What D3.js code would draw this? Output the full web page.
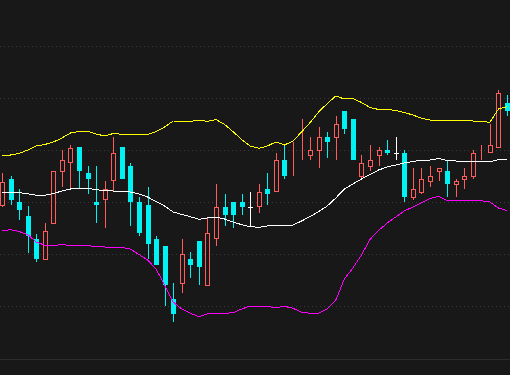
<!DOCTYPE html>
<html>
<head>
<meta charset="utf-8">
<script src="https://cdn.jsdelivr.net/npm/d3@7/dist/d3.min.js"></script>
<style>
  html, body { margin: 0; padding: 0; background: #181818; }
  svg { display: block; }
</style>
</head>
<body>
<svg id="draw-here"></svg>
<script>
// candle prices, left to right
var open = [19.40, 22.10, 19.77, 18.37, 16.07, 14.03, 17.60, 22.83, 23.67, 25.30, 22.70, 19.80, 19.97, 21.87, 25.30, 23.40, 19.80, 19.50, 16.10, 15.40,
            10.10, 11.63, 14.10, 15.90, 11.43, 16.07, 19.30, 19.80, 19.80, 19.27, 19.27, 21.13, 20.75, 24.00, 24.40, 25.50, 24.43, 24.93, 26.30, 26.23,
            28.90, 28.10, 22.30, 23.33, 24.43, 25.00, 24.73, 24.70, 20.20, 20.73, 21.83, 22.83, 22.90, 21.53, 22.03, 22.33, 25.00, 24.70, 25.23, 29.70];
var close = [21.83, 20.00, 19.00, 16.43, 14.10, 16.90, 22.90, 24.00, 25.23, 22.90, 22.10, 19.53, 21.10, 24.70, 22.13, 19.83, 16.70, 15.63, 13.50, 11.50,
             8.60, 14.60, 13.53, 13.33, 16.67, 19.30, 18.53, 18.53, 19.30, 19.27, 20.80, 20.63, 24.00, 22.43, 24.42, 25.52, 25.00, 26.30, 25.80, 27.60,
             27.10, 24.00, 23.70, 24.00, 25.00, 24.73, 24.73, 20.33, 21.10, 22.10, 22.40, 23.20, 21.63, 21.90, 22.40, 24.70, 25.02, 25.50, 30.70, 28.90];
var high = [22.67, 22.37, 21.10, 19.43, 16.57, 17.67, 22.90, 25.00, 25.50, 25.30, 23.40, 23.40, 21.90, 26.30, 25.30, 23.70, 20.30, 21.30, 16.40, 15.40,
            11.70, 16.10, 14.80, 15.90, 18.27, 21.60, 20.60, 19.80, 20.60, 20.80, 21.60, 22.70, 24.73, 25.40, 25.80, 28.10, 26.30, 27.30, 26.80, 28.40,
            28.90, 28.10, 24.50, 25.50, 25.30, 26.00, 26.30, 25.00, 23.20, 23.20, 23.40, 23.20, 23.90, 22.10, 23.20, 25.00, 25.50, 27.60, 31.00, 30.50];
var low = [19.33, 19.50, 18.00, 14.67, 13.83, 14.03, 17.60, 21.27, 21.07, 21.23, 20.60, 17.70, 17.23, 20.83, 22.13, 17.43, 16.43, 14.13, 13.50, 9.43,
           7.83, 10.73, 12.23, 11.50, 11.43, 15.43, 17.43, 17.23, 18.53, 17.33, 18.73, 19.53, 20.75, 22.13, 22.40, 24.00, 24.00, 23.20, 24.20, 24.00,
           26.60, 24.00, 22.00, 22.90, 23.40, 24.50, 24.00, 19.83, 20.03, 20.63, 21.33, 21.90, 20.33, 20.33, 21.13, 22.13, 24.00, 24.70, 25.23, 28.40];

// bollinger bands
var upper = [24.50, 24.50, 24.65, 25.00, 25.40, 25.55, 25.80, 26.20, 26.70, 26.85, 26.87, 26.60, 26.40, 26.65, 26.57, 26.57, 26.57, 26.55, 26.85, 27.30,
             27.90, 27.87, 27.87, 27.97, 27.87, 28.05, 27.55, 26.83, 26.05, 25.40, 25.17, 25.40, 25.80, 25.50, 25.90, 26.80, 27.75, 28.80, 29.65, 30.40,
             30.10, 30.15, 29.75, 29.25, 29.05, 29.07, 28.95, 28.75, 28.50, 28.17, 28.00, 27.90, 27.97, 27.97, 27.97, 27.90, 27.85, 27.77, 29.10, 29.32];
var middle = [20.73, 20.73, 20.73, 20.63, 20.47, 20.47, 20.65, 20.90, 21.10, 21.20, 21.17, 21.02, 20.95, 20.90, 20.90, 20.80, 20.60, 20.30, 19.85, 19.40,
              18.80, 18.55, 18.33, 18.07, 18.20, 18.30, 18.10, 17.80, 17.53, 17.33, 17.27, 17.40, 17.45, 17.40, 17.50, 17.90, 18.35, 18.85, 19.40, 20.20,
              21.10, 21.60, 22.10, 22.55, 23.00, 23.30, 23.50, 23.70, 23.85, 24.00, 24.00, 24.15, 23.95, 23.90, 23.90, 23.90, 23.85, 23.80, 24.05, 24.07];
var lower = [16.93, 17.03, 16.85, 16.55, 15.80, 15.47, 15.45, 15.55, 15.45, 15.50, 15.45, 15.33, 15.30, 15.20, 15.27, 15.10, 14.55, 14.00, 13.10, 11.50,
             9.80, 9.10, 8.67, 8.33, 8.60, 8.67, 8.67, 8.73, 9.10, 9.40, 9.40, 9.35, 9.23, 9.37, 9.17, 8.77, 8.67, 8.67, 9.10, 10.00,
             12.10, 13.20, 14.50, 16.07, 16.95, 17.70, 18.30, 18.90, 19.30, 19.70, 20.13, 20.37, 19.93, 19.93, 19.93, 19.93, 19.93, 19.80, 19.20, 18.95];

// grid levels
var gridLevels = [35.4, 30.2, 25.0, 19.8, 14.6, 9.4];

var width = 510, height = 375;
var upColor = '#ff5c5c', downColor = '#00f2f2', flatColor = '#ffffff';

var svg = d3.select('#draw-here')
  .attr('width', width)
  .attr('height', height);

svg.append('rect')
  .attr('width', width)
  .attr('height', height)
  .attr('fill', '#181818');

var x = d3.scalePoint()
  .domain(d3.range(open.length))
  .range([2, 507]);

var y = d3.scaleLinear()
  .domain([0, 40])
  .range([400, 0]);

// dotted grid
svg.append('g')
  .selectAll('line')
  .data(gridLevels)
  .enter().append('line')
  .attr('x1', 0)
  .attr('x2', width)
  .attr('y1', function(d) { return Math.round(y(d)) + 0.5; })
  .attr('y2', function(d) { return Math.round(y(d)) + 0.5; })
  .attr('stroke', '#3a3a3a')
  .attr('stroke-dasharray', '1,3');

// bottom separator
svg.append('line')
  .attr('x1', 0).attr('x2', width)
  .attr('y1', 359.5).attr('y2', 359.5)
  .attr('stroke', '#2c2c2c');

var candles = d3.range(open.length).map(function(i) {
  return {i: i, o: open[i], c: close[i], h: high[i], l: low[i]};
});

function colorOf(d) {
  if (d.c > d.o) return upColor;
  if (d.c < d.o) return downColor;
  return flatColor;
}

var g = svg.append('g').attr('shape-rendering', 'crispEdges');

candles.forEach(function(d) {
  var cx = Math.round(x(d.i));
  var col = colorOf(d);
  var top = Math.round(y(Math.max(d.o, d.c)));
  var bot = Math.round(y(Math.min(d.o, d.c)));
  var hi = Math.round(y(d.h));
  var lo = Math.round(y(d.l));

  if (d.c > d.o) {
    // hollow rising candle, wicks outside the body
    if (hi < top) {
      g.append('line').attr('x1', cx + 0.5).attr('x2', cx + 0.5)
        .attr('y1', hi).attr('y2', top).attr('stroke', col);
    }
    if (lo > bot) {
      g.append('line').attr('x1', cx + 0.5).attr('x2', cx + 0.5)
        .attr('y1', bot).attr('y2', lo).attr('stroke', col);
    }
    g.append('rect')
      .attr('x', cx - 2 + 0.5)
      .attr('y', top + 0.5)
      .attr('width', 4)
      .attr('height', Math.max(0, bot - top - 1))
      .attr('fill', '#181818')
      .attr('stroke', col);
  } else if (d.c < d.o) {
    g.append('line').attr('x1', cx + 0.5).attr('x2', cx + 0.5)
      .attr('y1', hi).attr('y2', lo).attr('stroke', col);
    g.append('rect')
      .attr('x', cx - 2)
      .attr('y', top)
      .attr('width', 5)
      .attr('height', Math.max(1, bot - top))
      .attr('fill', col);
  } else {
    // doji
    g.append('line').attr('x1', cx + 0.5).attr('x2', cx + 0.5)
      .attr('y1', hi).attr('y2', lo).attr('stroke', col);
    g.append('line').attr('x1', cx - 2).attr('x2', cx + 3)
      .attr('y1', top + 0.5).attr('y2', top + 0.5).attr('stroke', col);
  }
});

// bands
var line = d3.line()
  .x(function(d, i) { return x(i); })
  .y(function(d) { return y(d); });

[[upper, '#ffff00'], [middle, '#ffffff'], [lower, '#ff00ff']].forEach(function(b) {
  svg.append('path')
    .datum(b[0])
    .attr('d', line)
    .attr('fill', 'none')
    .attr('stroke', b[1])
    .attr('stroke-width', 1)
    .attr('shape-rendering', 'crispEdges');
});
</script>
</body>
</html>
